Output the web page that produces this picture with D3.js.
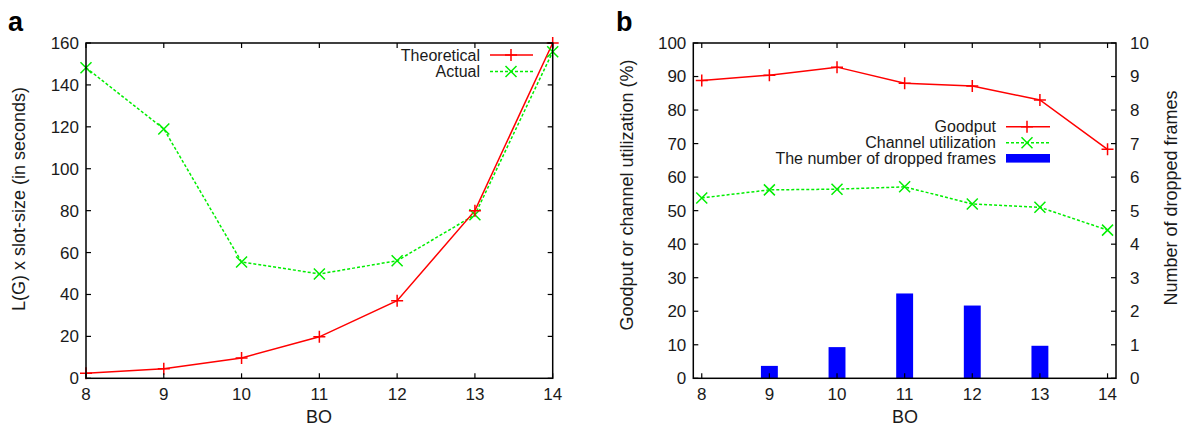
<!DOCTYPE html>
<html>
<head>
<meta charset="utf-8">
<script src="https://cdn.jsdelivr.net/npm/d3@7"></script>
<style>
  body { margin: 0; background: #fff; }
  svg { display: block; font-family: "Liberation Sans", Arial, Helvetica, sans-serif; }
</style>
</head>
<body>
<div id="chart"></div>
<script>
// panel a data
var boA = [8, 9, 10, 11, 12, 13, 14];
var theoretical = [2.4, 4.6, 9.7, 19.8, 37, 80, 160];
var actual = [148.2, 119, 55.5, 49.8, 56.1, 78, 155.8];
var yTicksA = [0, 20, 40, 60, 80, 100, 120, 140, 160];

// panel b data
var boB = [8, 9, 10, 11, 12, 13, 14];
var goodput = [88.8, 90.4, 92.8, 88.0, 87.2, 83.0, 68.3];
var channelUtil = [53.8, 56.2, 56.4, 57.1, 52.0, 51.0, 44.2];
var droppedFrames = [0, 0.37, 0.93, 2.53, 2.17, 0.97, 0];
var yTicksB = [0, 10, 20, 30, 40, 50, 60, 70, 80, 90, 100];
var yTicksB2 = [0, 1, 2, 3, 4, 5, 6, 7, 8, 9, 10];

var W = 1184, H = 427;
var txt = "#1a1a1a";
var tickLen = 5;

var svg = d3.select("#chart").append("svg")
  .attr("width", W).attr("height", H);

function plus(g, x, y, s, col) {
  g.append("path")
    .attr("d", `M${x - s},${y}H${x + s}M${x},${y - s}V${y + s}`)
    .attr("stroke", col).attr("stroke-width", 1.5).attr("fill", "none");
}
function cross(g, x, y, s, col) {
  g.append("path")
    .attr("d", `M${x - s},${y - s}L${x + s},${y + s}M${x - s},${y + s}L${x + s},${y - s}`)
    .attr("stroke", col).attr("stroke-width", 1.5).attr("fill", "none");
}

// draws the box, inward ticks on all sides and tick labels
function frame(g, x, y, xTicks, yTicks, y2, y2Ticks) {
  var x0 = x.range()[0], x1 = x.range()[1];
  var y0 = y.range()[0], y1 = y.range()[1];

  xTicks.forEach(function(t) {
    g.append("line").attr("x1", x(t)).attr("x2", x(t)).attr("y1", y0).attr("y2", y0 - tickLen)
      .attr("stroke", "#000").attr("stroke-width", 1.2);
    g.append("line").attr("x1", x(t)).attr("x2", x(t)).attr("y1", y1).attr("y2", y1 + tickLen)
      .attr("stroke", "#000").attr("stroke-width", 1.2);
    g.append("text").attr("x", x(t)).attr("y", y0 + 22)
      .attr("text-anchor", "middle").attr("font-size", 17).attr("fill", txt).text(t);
  });
  yTicks.forEach(function(t) {
    g.append("line").attr("x1", x0).attr("x2", x0 + tickLen).attr("y1", y(t)).attr("y2", y(t))
      .attr("stroke", "#000").attr("stroke-width", 1.2);
    if (!y2) {
      g.append("line").attr("x1", x1).attr("x2", x1 - tickLen).attr("y1", y(t)).attr("y2", y(t))
        .attr("stroke", "#000").attr("stroke-width", 1.2);
    }
    g.append("text").attr("x", x0 - 7).attr("y", y(t)).attr("dy", "0.35em")
      .attr("text-anchor", "end").attr("font-size", 17).attr("fill", txt).text(t);
  });
  if (y2) {
    y2Ticks.forEach(function(t) {
      g.append("line").attr("x1", x1).attr("x2", x1 - tickLen).attr("y1", y2(t)).attr("y2", y2(t))
        .attr("stroke", "#000").attr("stroke-width", 1.2);
      g.append("text").attr("x", x1 + 14).attr("y", y2(t)).attr("dy", "0.35em")
        .attr("text-anchor", "start").attr("font-size", 17).attr("fill", txt).text(t);
    });
  }
  g.append("rect").attr("x", x0).attr("y", y1).attr("width", x1 - x0).attr("height", y0 - y1)
    .attr("fill", "none").attr("stroke", "#000").attr("stroke-width", 1.5);
}

// ---------- panel a ----------
var ga = svg.append("g");
var xA = d3.scaleLinear().domain([8, 14]).range([86, 552.7]);
var yA = d3.scaleLinear().domain([0, 160]).range([378.3, 43]);

var lineA = d3.line().x((d, i) => xA(boA[i])).y(d => yA(d));

ga.append("path").datum(actual).attr("d", lineA)
  .attr("fill", "none").attr("stroke", "#00ee00").attr("stroke-width", 1.5).attr("stroke-dasharray", "3,2");
ga.append("path").datum(theoretical).attr("d", lineA)
  .attr("fill", "none").attr("stroke", "#ff0000").attr("stroke-width", 1.5);
actual.forEach((d, i) => cross(ga, xA(boA[i]), yA(d), 5.5, "#00ee00"));
theoretical.forEach((d, i) => plus(ga, xA(boA[i]), yA(d), 6, "#ff0000"));

frame(ga, xA, yA, boA, yTicksA);

// legend a
ga.append("text").attr("x", 480).attr("y", 55).attr("dy", "0.35em").attr("text-anchor", "end")
  .attr("font-size", 16).attr("fill", txt).text("Theoretical");
ga.append("line").attr("x1", 490).attr("x2", 533).attr("y1", 55).attr("y2", 55)
  .attr("stroke", "#ff0000").attr("stroke-width", 1.5);
plus(ga, 511, 55, 6, "#ff0000");
ga.append("text").attr("x", 480).attr("y", 71.5).attr("dy", "0.35em").attr("text-anchor", "end")
  .attr("font-size", 16).attr("fill", txt).text("Actual");
ga.append("line").attr("x1", 490).attr("x2", 533).attr("y1", 71.5).attr("y2", 71.5)
  .attr("stroke", "#00ee00").attr("stroke-width", 1.5).attr("stroke-dasharray", "3,2");
cross(ga, 511, 71.5, 5.5, "#00ee00");

ga.append("text").attr("x", 319).attr("y", 423).attr("text-anchor", "middle")
  .attr("font-size", 18).attr("fill", txt).text("BO");
ga.append("text").attr("transform", "translate(25,199) rotate(-90)").attr("text-anchor", "middle")
  .attr("font-size", 18).attr("fill", txt).text("L(G) x slot-size (in seconds)");
ga.append("text").attr("x", 8).attr("y", 31).attr("font-size", 27).attr("font-weight", "bold")
  .attr("fill", "#000").text("a");

// ---------- panel b ----------
var gb = svg.append("g");
var xB = d3.scaleLinear().domain([7.875, 14.125]).range([693.3, 1116]);
var yB = d3.scaleLinear().domain([0, 100]).range([378.3, 43]);
var yB2 = d3.scaleLinear().domain([0, 10]).range([378.3, 43]);
var barW = xB(8.25) - xB(8);

gb.selectAll("rect.bar").data(droppedFrames).join("rect").attr("class", "bar")
  .attr("x", (d, i) => xB(boB[i]) - barW / 2)
  .attr("y", d => yB2(d))
  .attr("width", barW)
  .attr("height", d => yB2(0) - yB2(d))
  .attr("fill", "#0000ff");

var lineB = d3.line().x((d, i) => xB(boB[i])).y(d => yB(d));
gb.append("path").datum(channelUtil).attr("d", lineB)
  .attr("fill", "none").attr("stroke", "#00ee00").attr("stroke-width", 1.5).attr("stroke-dasharray", "3,2");
gb.append("path").datum(goodput).attr("d", lineB)
  .attr("fill", "none").attr("stroke", "#ff0000").attr("stroke-width", 1.5);
channelUtil.forEach((d, i) => cross(gb, xB(boB[i]), yB(d), 5.5, "#00ee00"));
goodput.forEach((d, i) => plus(gb, xB(boB[i]), yB(d), 6, "#ff0000"));

frame(gb, xB, yB, boB, yTicksB, yB2, yTicksB2);

// legend b
var legB = [126.7, 142.7, 158.3];
gb.append("text").attr("x", 996).attr("y", legB[0]).attr("dy", "0.35em").attr("text-anchor", "end")
  .attr("font-size", 16).attr("fill", txt).text("Goodput");
gb.append("line").attr("x1", 1006).attr("x2", 1050).attr("y1", legB[0]).attr("y2", legB[0])
  .attr("stroke", "#ff0000").attr("stroke-width", 1.5);
plus(gb, 1027, legB[0], 6, "#ff0000");
gb.append("text").attr("x", 996).attr("y", legB[1]).attr("dy", "0.35em").attr("text-anchor", "end")
  .attr("font-size", 16).attr("fill", txt).text("Channel utilization");
gb.append("line").attr("x1", 1006).attr("x2", 1050).attr("y1", legB[1]).attr("y2", legB[1])
  .attr("stroke", "#00ee00").attr("stroke-width", 1.5).attr("stroke-dasharray", "3,2");
cross(gb, 1027, legB[1], 5.5, "#00ee00");
gb.append("text").attr("x", 996).attr("y", legB[2]).attr("dy", "0.35em").attr("text-anchor", "end")
  .attr("font-size", 16).attr("fill", txt).text("The number of dropped frames");
gb.append("rect").attr("x", 1006).attr("y", legB[2] - 4.3).attr("width", 44).attr("height", 8.6)
  .attr("fill", "#0000ff");

gb.append("text").attr("x", 905).attr("y", 423).attr("text-anchor", "middle")
  .attr("font-size", 18).attr("fill", txt).text("BO");
gb.append("text").attr("transform", "translate(633,195) rotate(-90)").attr("text-anchor", "middle")
  .attr("font-size", 18).attr("fill", txt).text("Goodput or channel utilization (%)");
gb.append("text").attr("transform", "translate(1177,198) rotate(-90)").attr("text-anchor", "middle")
  .attr("font-size", 18).attr("fill", txt).text("Number of dropped frames");
gb.append("text").attr("x", 616).attr("y", 31).attr("font-size", 27).attr("font-weight", "bold")
  .attr("fill", "#000").text("b");
</script>
</body>
</html>
